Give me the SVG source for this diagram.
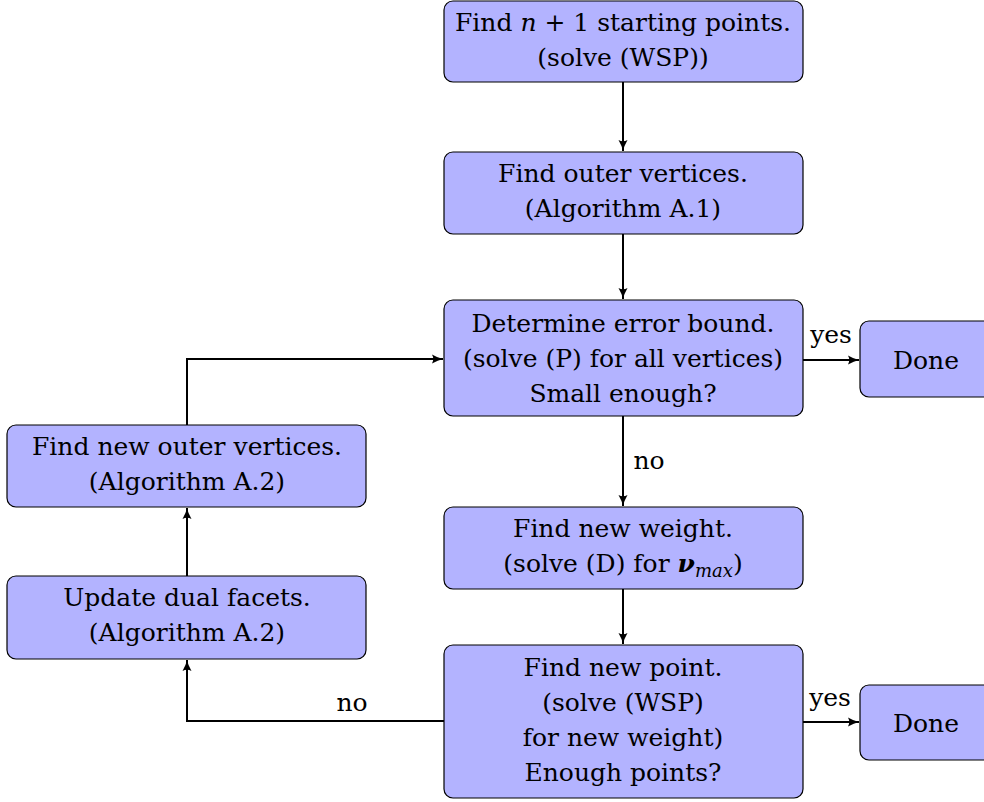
<svg xmlns="http://www.w3.org/2000/svg" width="984" height="802" viewBox="0 0 984 802">
<defs>
<marker id="ah" markerWidth="14" markerHeight="12" refX="12" refY="6" orient="auto" markerUnits="userSpaceOnUse">
<path d="M1,1.5 Q7,5 12,6 Q7,7 1,10.5 Q3.5,6 1,1.5 Z" fill="#000"/>
</marker>
</defs>
<style>
.box{fill:#b3b3ff;stroke:#000;stroke-width:1.2}
text{font-family:"DejaVu Serif","Liberation Serif",serif;font-size:25px;fill:#000;text-anchor:middle}
.c{fill:none;stroke:#000;stroke-width:2}
.i{font-style:italic}
</style>
<g id="n1"><rect class="box" x="444" y="1" width="359" height="81" rx="9"/>
<text x="623" y="31">Find <tspan class="i">n</tspan> + 1 starting points.</text>
<text x="623" y="66">(solve (WSP))</text></g>
<g id="n2"><rect class="box" x="444" y="152" width="359" height="82" rx="9"/>
<text x="623" y="182">Find outer vertices.</text>
<text x="623" y="217">(Algorithm A.1)</text></g>
<g id="n3"><rect class="box" x="444" y="300" width="359" height="116" rx="9"/>
<text x="623" y="332">Determine error bound.</text>
<text x="623" y="367">(solve (P) for all vertices)</text>
<text x="623" y="402">Small enough?</text></g>
<g id="done1"><rect class="box" x="860" y="321" width="135" height="76" rx="9"/>
<text x="926" y="369">Done</text></g>
<g id="n4"><rect class="box" x="444" y="507" width="359" height="82" rx="9"/>
<text x="623" y="537">Find new weight.</text>
<text x="623" y="572">(solve (D) for <tspan font-weight="bold" font-style="italic">ν</tspan><tspan class="i" font-size="18" dy="5">max</tspan><tspan dy="-5">)</tspan></text></g>
<g id="n5"><rect class="box" x="444" y="645" width="359" height="153" rx="9"/>
<text x="623" y="676">Find new point.</text>
<text x="623" y="711">(solve (WSP)</text>
<text x="623" y="746">for new weight)</text>
<text x="623" y="781">Enough points?</text></g>
<g id="done2"><rect class="box" x="860" y="685" width="135" height="75" rx="9"/>
<text x="926" y="732">Done</text></g>
<g id="nA"><rect class="box" x="7" y="425" width="359" height="82" rx="9"/>
<text x="187" y="455">Find new outer vertices.</text>
<text x="187" y="490">(Algorithm A.2)</text></g>
<g id="nB"><rect class="box" x="7" y="576" width="359" height="83" rx="9"/>
<text x="187" y="606">Update dual facets.</text>
<text x="187" y="641">(Algorithm A.2)</text></g>
<g id="connectors">
<path class="c" d="M623,82 V151" marker-end="url(#ah)"/>
<path class="c" d="M623,234 V299" marker-end="url(#ah)"/>
<path class="c" d="M623,416 V506" marker-end="url(#ah)"/>
<path class="c" d="M623,589 V644" marker-end="url(#ah)"/>
<path class="c" d="M803,360 H859" marker-end="url(#ah)"/>
<path class="c" d="M803,722 H859" marker-end="url(#ah)"/>
<path class="c" d="M444,721 H187 V660" marker-end="url(#ah)"/>
<path class="c" d="M187,576 V508" marker-end="url(#ah)"/>
<path class="c" d="M187,425 V359 H443" marker-end="url(#ah)"/>
<text x="649" y="469">no</text>
<text x="831" y="343">yes</text>
<text x="830" y="706">yes</text>
<text x="352" y="711">no</text>
</g>
</svg>
